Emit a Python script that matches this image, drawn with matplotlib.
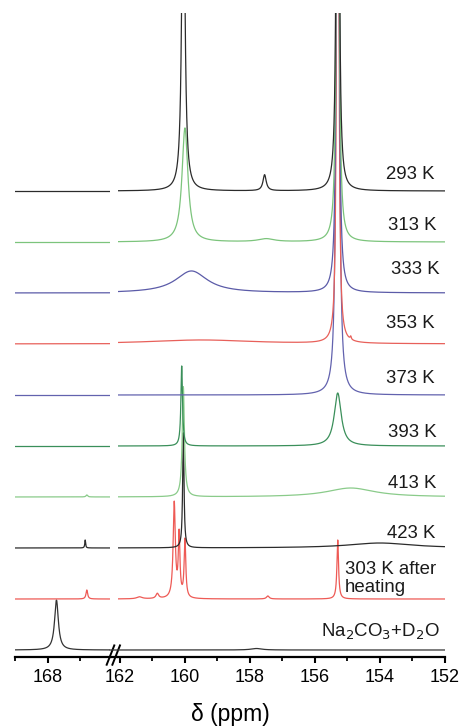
import numpy as np
import matplotlib
matplotlib.use("Agg")
import matplotlib.pyplot as plt
from matplotlib.patches import ConnectionPatch

plt.rcParams['font.family'] = ['Liberation Sans', 'DejaVu Sans']

# spectra, bottom to top; peaks are (centre ppm, height, half width ppm)
labels = ['Na$_2$CO$_3$+D$_2$O', '303 K after\nheating', '423 K', '413 K', '393 K',
          '373 K', '353 K', '333 K', '313 K', '293 K']
colors = ['#333333', '#ee5a55', '#2b2b2b', '#8acb8a', '#3a8f5a',
          '#6262ae', '#e8605a', '#5b5ba8', '#7cc47c', '#2b2b2b']
peaks = [
    [(167.73, 50, 0.07), (157.8, 1.5, 0.2)],
    [(160.33, 95, 0.04), (160.18, 62, 0.03), (160.0, 58, 0.03), (155.3, 59, 0.03),
     (166.8, 9, 0.03), (160.85, 5, 0.05), (161.4, 2, 0.1), (157.45, 3, 0.05)],
    [(160.05, 115, 0.025), (166.85, 8, 0.015), (154.0, 5, 1.2)],
    [(160.05, 110, 0.04), (154.9, 9, 0.9), (166.8, 2, 0.03)],
    [(160.1, 80, 0.03), (155.3, 53, 0.13)],
    [(155.3, 1500, 0.03)],
    [(159.5, 4, 2.0), (155.3, 1500, 0.022), (154.9, 3, 0.02)],
    [(159.8, 22, 0.6), (155.3, 1500, 0.025)],
    [(160.0, 114, 0.11), (155.3, 1500, 0.025), (157.5, 3, 0.3)],
    [(160.05, 400, 0.05), (155.3, 1500, 0.025), (157.55, 16, 0.06)],
]
# label position: (ppm, height above baseline, horizontal alignment)
label_pos = [(152.15, 13, 'right'), (155.08, 7, 'left'), (152.31, 10, 'right'),
             (152.25, 9, 'right'), (152.25, 9, 'right'), (152.31, 12, 'right'),
             (152.31, 16, 'right'), (152.15, 19, 'right'), (152.25, 12, 'right'),
             (152.31, 12, 'right')]

spacing = 51.0
base = 7.0

W, H = 461, 728
fig = plt.figure(figsize=(W / 100, H / 100), dpi=100)
bot, top = 1 - 657 / H, 1 - 13 / H
ax1 = fig.add_axes([15 / W, bot, (110 - 15) / W, top - bot])
ax2 = fig.add_axes([118 / W, bot, (445 - 118) / W, top - bot])

x1 = np.linspace(169, 166.09, 800)
x2 = np.linspace(162.06, 152, 5000)


def spectrum(x, plist):
    y = np.zeros_like(x)
    for c, h, g in plist:
        y += h * g ** 2 / ((x - c) ** 2 + g ** 2)
    return y


for i, (pl, col) in enumerate(zip(peaks, colors)):
    off = base + spacing * i
    ax1.plot(x1, off + spectrum(x1, pl), color=col, lw=0.9)
    ax2.plot(x2, off + spectrum(x2, pl), color=col, lw=0.9)
    lx, dy, ha = label_pos[i]
    ax2.text(lx, off + dy, labels[i], ha=ha, va='baseline', fontsize=13.4,
             color='#1a1a1a', linespacing=1.05)

for ax in (ax1, ax2):
    ax.set_ylim(0, 644)
    for s in ['top', 'left', 'right']:
        ax.spines[s].set_visible(False)
    ax.spines['bottom'].set_linewidth(1.6)
    ax.set_yticks([])
    ax.tick_params(axis='x', which='major', length=4.5, width=1.5, labelsize=13, pad=4)
    ax.tick_params(axis='x', which='minor', length=3, width=1.3)
    ax.patch.set_alpha(0)

ax1.set_xlim(169, 166.09)
ax1.set_xticks([168])
ax1.set_xticks([169, 167], minor=True)
ax2.set_xlim(162.06, 152)
ax2.set_xticks([162, 160, 158, 156, 154, 152])
ax2.set_xticks([161, 159, 157, 155, 153], minor=True)

# join the axis line and the reference trace across the break
fig.add_artist(ConnectionPatch((1, 0), (0, 0), 'axes fraction', 'axes fraction',
                               axesA=ax1, axesB=ax2, lw=1.6, color='black'))
fig.add_artist(ConnectionPatch((166.09, base), (162.06, base), 'data', 'data',
                               axesA=ax1, axesB=ax2, lw=0.9, color=colors[0]))

# break marks //
for dx in (0.0, 0.06):
    ax1.plot([0.965 + dx, 1.045 + dx], [-0.012, 0.018], transform=ax1.transAxes,
             color='black', lw=1.4, clip_on=False)

fig.text(0.5, 1 - 721 / H, 'δ (ppm)', ha='center', va='baseline', fontsize=16.5)

fig.savefig('out.png', dpi=100)
